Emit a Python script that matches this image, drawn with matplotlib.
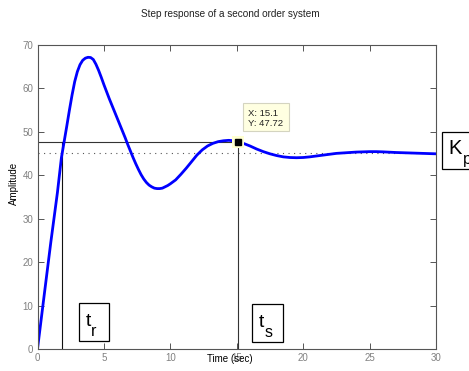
import matplotlib
matplotlib.use("Agg")
import matplotlib.pyplot as plt
from matplotlib.patches import Rectangle

plt.rcParams['font.family'] = ['Liberation Sans', 'DejaVu Sans']

# Step response samples (time in seconds, amplitude)
time_s = [0, 0.5, 1.0, 1.5, 1.8, 2.0, 2.2, 2.4, 2.6, 2.8, 3.0, 3.2, 3.4, 3.6,
          3.8, 4.0, 4.2, 4.4, 4.6, 4.8, 5.0, 5.2, 5.4, 5.6, 5.8, 6.0, 6.2,
          6.4, 6.6, 6.8, 7.0, 7.2, 7.4, 7.6, 7.8, 8.0, 8.2, 8.4, 8.6, 8.8,
          9.0, 9.2, 9.4, 9.6, 9.8, 10.0, 10.4, 10.8, 11.2, 11.6, 12.0, 12.4,
          12.8, 13.2, 13.6, 14.0, 14.4, 14.8, 15.1, 15.5, 16.0, 16.5, 17.0,
          17.5, 18.0, 18.5, 19.0, 19.5, 20.0, 20.5, 21.0, 21.5, 22.0, 22.5,
          23.0, 23.5, 24.0, 24.5, 25.0, 25.5, 26.0, 27.0, 28.0, 29.0, 30.0]
amplitude = [0, 12.3, 24.5, 36.0, 44.0, 47.6, 51.2, 54.9, 58.4, 61.5, 63.8,
             65.4, 66.4, 66.9, 67.1, 67.05, 66.6, 65.5, 64.1, 62.5, 60.8, 59.2,
             57.6, 56.1, 54.6, 53.1, 51.6, 50.1, 48.6, 47.0, 45.5, 44.0, 42.6,
             41.3, 40.1, 39.1, 38.3, 37.7, 37.3, 37.0, 36.9, 36.9, 37.0, 37.3,
             37.6, 38.0, 38.9, 40.2, 41.6, 43.1, 44.6, 45.8, 46.7, 47.3, 47.7,
             47.9, 48.0, 47.9, 47.72, 47.3, 46.7, 46.0, 45.4, 44.9, 44.5, 44.2,
             44.05, 44.0, 44.05, 44.2, 44.4, 44.6, 44.8, 45.0, 45.1, 45.2, 45.3,
             45.35, 45.4, 45.4, 45.35, 45.2, 45.1, 45.0, 44.9]

final_value = 45.0
rise_time = 1.87
tip_x, tip_y = 15.1, 47.72

x_ticks = [0, 5, 10, 15, 20, 25, 30]
y_ticks = [0, 10, 20, 30, 40, 50, 60, 70]

W, H = 469, 371
fig = plt.figure(figsize=(W / 100, H / 100), dpi=100)
fig.patch.set_facecolor('white')


def fx(px):
    return px / W


def fy(py):
    return 1 - py / H


ax = fig.add_axes([fx(37.5), fy(349), (436 - 37.5) / W, (349 - 44.7) / H])
ax.set_xlim(0, 30)
ax.set_ylim(0, 70)
ax.set_xticks(x_ticks)
ax.set_yticks(y_ticks)
ax.tick_params(direction='in', length=4, width=0.7, colors='#555555',
               labelcolor='#808080', labelsize=7, top=True, right=True, pad=3)
for sp in ax.spines.values():
    sp.set_color('#555555')
    sp.set_linewidth(0.8)

# Reference lines
ax.plot([0, 30], [final_value, final_value], linestyle=(0, (1, 4)),
        color='#555555', linewidth=0.8)
ax.plot([0, tip_x], [tip_y, tip_y], color='#333333', linewidth=0.8)
ax.plot([tip_x, tip_x], [0, tip_y], color='#333333', linewidth=0.8)
ax.plot([rise_time, rise_time], [0, tip_y], color='#111111', linewidth=0.8)

# Response curve
ax.plot(time_s, amplitude, color='#0000ff', linewidth=2.0,
        solid_joinstyle='round', solid_capstyle='round')

# Data tip marker
ax.plot([tip_x], [tip_y], marker='s', markersize=8, color='#ffffd0',
        markeredgewidth=0, zorder=5)
ax.plot([tip_x], [tip_y], marker='s', markersize=5, color='black', zorder=6)

# Titles and axis labels
fig.text(fx(230), fy(14), 'Step response of a second order system',
         ha='center', va='center', fontsize=7.2, color='#222222')
fig.text(fx(230), fy(359.5), 'Time (sec)', ha='center', va='center',
         fontsize=7, color='black')
fig.text(fx(14), fy(183), 'Amplitude', ha='center', va='center',
         rotation=90, fontsize=7, color='black')

# Data tip box
fig.patches.append(Rectangle((fx(242.7), fy(131)), (289 - 242.7) / W,
                             (131 - 103.3) / H, transform=fig.transFigure,
                             facecolor='#ffffe1', edgecolor='#d4d4c0',
                             linewidth=0.8, zorder=10))
fig.text(fx(248), fy(113), f'X: {tip_x}', ha='left', va='center',
         fontsize=6.8, color='#222222', zorder=11)
fig.text(fx(248), fy(123.5), f'Y: {tip_y}', ha='left', va='center',
         fontsize=6.8, color='#222222', zorder=11)


def label_box(x0, y0, x1, y1, main, sub, main_pos, sub_pos, main_size, sub_size):
    fig.patches.append(Rectangle((fx(x0), fy(y1)), (x1 - x0) / W, (y1 - y0) / H,
                                 transform=fig.transFigure, facecolor='white',
                                 edgecolor='black', linewidth=0.9, zorder=10))
    fig.text(fx(main_pos[0]), fy(main_pos[1]), main, ha='left', va='baseline',
             fontsize=main_size, color='black', zorder=11)
    fig.text(fx(sub_pos[0]), fy(sub_pos[1]), sub, ha='left', va='baseline',
             fontsize=sub_size, color='black', zorder=11)


label_box(79, 302.7, 109, 341, 't', 'r', (85.5, 325.5), (91, 335.5), 14, 11.5)
label_box(252.3, 304.3, 282.7, 342.3, 't', 's', (258.5, 327), (265, 337), 14, 11.5)
label_box(442.3, 131.7, 490, 169.3, 'K', 'p', (448.5, 153.5), (462.5, 163.5), 14.5, 11.5)

fig.savefig('out.png', dpi=100)
